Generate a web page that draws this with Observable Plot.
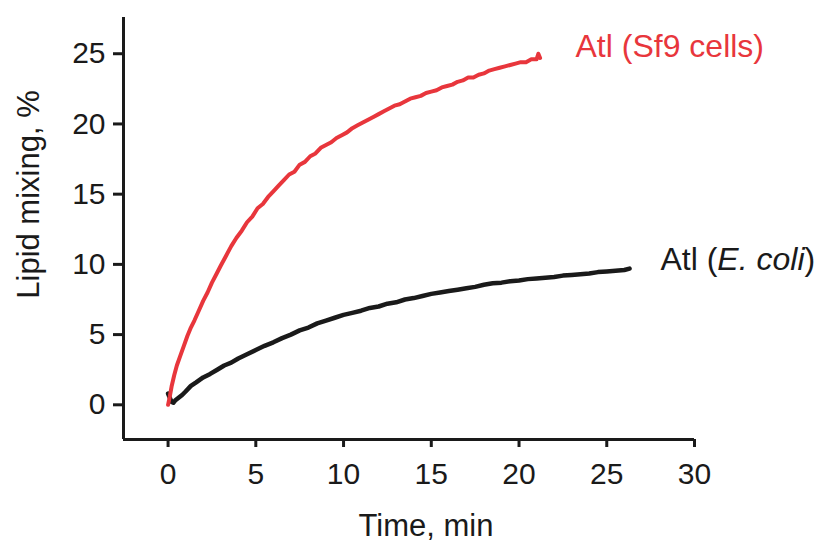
<!DOCTYPE html>
<html>
<head>
<meta charset="utf-8">
<script src="https://cdn.jsdelivr.net/npm/d3@7"></script>
<script src="https://cdn.jsdelivr.net/npm/@observablehq/plot@0.6"></script>
<style>
  html, body { margin: 0; padding: 0; background: #ffffff; }
  #chart { width: 817px; height: 544px; }
</style>
</head>
<body>
<div id="chart"></div>
<script>
// ---- Data ----
const xTicks = [0, 5, 10, 15, 20, 25, 30];
const yTicks = [0, 5, 10, 15, 20, 25];
const xLabel = "Time, min";
const yLabel = "Lipid mixing, %";
const sf9Label = "Atl (Sf9 cells)";
const ecoliLabel = "Atl (E. coli)";

const sf9Time = [0.0, 0.1, 0.2, 0.35, 0.5, 0.7, 0.9, 1.1, 1.3, 1.5, 1.75, 2.0, 2.25, 2.5, 2.75, 3.0, 3.3, 3.6, 3.9, 4.2, 4.5, 4.8, 5.1, 5.4, 5.7, 6.0, 6.3, 6.6, 6.9, 7.2, 7.5, 7.8, 8.1, 8.4, 8.7, 9.0, 9.3, 9.6, 9.9, 10.2, 10.5, 10.8, 11.1, 11.4, 11.7, 12.0, 12.3, 12.6, 12.9, 13.2, 13.5, 13.8, 14.1, 14.4, 14.7, 15.0, 15.3, 15.6, 15.9, 16.2, 16.5, 16.8, 17.1, 17.4, 17.7, 18.0, 18.3, 18.6, 18.9, 19.2, 19.5, 19.8, 20.1, 20.4, 20.7, 21.0, 21.1, 21.2];
const sf9Value = [0.0, 0.6, 1.3, 2.1, 2.8, 3.5, 4.2, 4.9, 5.5, 6.0, 6.7, 7.4, 8.0, 8.7, 9.3, 9.9, 10.6, 11.3, 11.9, 12.4, 13.0, 13.4, 14.0, 14.3, 14.8, 15.2, 15.6, 16.0, 16.4, 16.6, 17.1, 17.3, 17.7, 17.9, 18.3, 18.5, 18.7, 19.0, 19.2, 19.4, 19.7, 19.9, 20.1, 20.3, 20.5, 20.7, 20.9, 21.1, 21.3, 21.4, 21.6, 21.8, 21.9, 22.0, 22.2, 22.3, 22.4, 22.6, 22.7, 22.8, 23.0, 23.1, 23.3, 23.3, 23.5, 23.6, 23.8, 23.9, 24.0, 24.1, 24.2, 24.3, 24.4, 24.4, 24.6, 24.6, 25.0, 24.7];

const ecoliTime = [0.0, 0.1, 0.2, 0.3, 0.4, 0.6, 0.8, 1.0, 1.3, 1.6, 2.0, 2.4, 2.8, 3.2, 3.6, 4.0, 4.5, 5.0, 5.5, 6.0, 6.5, 7.0, 7.5, 8.0, 8.5, 9.0, 9.5, 10.0, 10.5, 11.0, 11.5, 12.0, 12.5, 13.0, 13.5, 14.0, 14.5, 15.0, 15.5, 16.0, 16.5, 17.0, 17.5, 18.0, 18.5, 19.0, 19.5, 20.0, 20.5, 21.0, 21.5, 22.0, 22.5, 23.0, 23.5, 24.0, 24.5, 25.0, 25.5, 26.0, 26.3];
const ecoliValue = [0.8, 0.5, 0.2, 0.15, 0.3, 0.5, 0.7, 0.95, 1.35, 1.6, 1.95, 2.2, 2.5, 2.8, 3.0, 3.3, 3.6, 3.9, 4.2, 4.45, 4.75, 5.0, 5.3, 5.5, 5.8, 6.0, 6.2, 6.4, 6.55, 6.7, 6.9, 7.0, 7.2, 7.3, 7.5, 7.6, 7.75, 7.9, 8.0, 8.1, 8.2, 8.3, 8.4, 8.55, 8.65, 8.7, 8.8, 8.85, 8.95, 9.0, 9.05, 9.1, 9.2, 9.25, 9.3, 9.35, 9.45, 9.5, 9.55, 9.6, 9.7];

// ---- Build tables ----
const sf9 = sf9Time.map((t, i) => ({t, v: sf9Value[i]}));
const ecoli = ecoliTime.map((t, i) => ({t, v: ecoliValue[i]}));

const xMin = -2.54, xMax = 30;
const yMin = -2.47, yMax = 27.58;
const ink = "#1a1a1a";
const red = "#e8363c";
const font = "'Liberation Sans', Arial, Helvetica, sans-serif";

const chart = Plot.plot({
  width: 817,
  height: 544,
  marginTop: 17,
  marginBottom: 105,
  marginLeft: 123,
  marginRight: 123,
  x: {domain: [xMin, xMax]},
  y: {domain: [yMin, yMax]},
  style: {fontFamily: font, fontSize: "30px", color: ink, background: "#ffffff", overflow: "visible"},
  marks: [
    Plot.axisX({ticks: xTicks, tickSize: 8, tickPadding: 15, strokeWidth: 3, label: null, fontSize: 30, tickFormat: d => String(d)}),
    Plot.axisY({ticks: yTicks, tickSize: 10, tickPadding: 8, strokeWidth: 3, label: null, fontSize: 30, tickFormat: d => String(d)}),
    Plot.ruleX([xMin], {stroke: ink, strokeWidth: 3}),
    Plot.ruleY([yMin], {stroke: ink, strokeWidth: 3}),
    Plot.line(ecoli, {x: "t", y: "v", stroke: ink, strokeWidth: 4.5, strokeLinejoin: "round"}),
    Plot.line(sf9, {x: "t", y: "v", stroke: red, strokeWidth: 4, strokeLinejoin: "round"}),
    Plot.text([sf9Label], {x: 23.22, y: 25.5, text: d => d, textAnchor: "start", lineAnchor: "middle", fill: red, fontSize: 32}),
    Plot.text([ecoliLabel], {x: 28.06, y: 10.3, text: d => d, textAnchor: "start", lineAnchor: "middle", fill: ink, fontSize: 32}),
    Plot.text([xLabel], {frameAnchor: "bottom", text: d => d, dx: 17, dy: 87, textAnchor: "middle", lineAnchor: "middle", fill: ink, fontSize: 31}),
    Plot.text([yLabel], {frameAnchor: "left", text: d => d, dx: -94, dy: -34, rotate: -90, textAnchor: "middle", lineAnchor: "middle", fill: ink, fontSize: 31})
  ]
});

// italicize "E. coli" in the annotation
chart.querySelectorAll("text").forEach(t => {
  if (t.textContent === ecoliLabel) {
    t.textContent = "";
    const ns = "http://www.w3.org/2000/svg";
    const a = document.createElementNS(ns, "tspan"); a.textContent = "Atl (";
    const b = document.createElementNS(ns, "tspan"); b.textContent = "E. coli"; b.setAttribute("font-style", "italic");
    const c = document.createElementNS(ns, "tspan"); c.textContent = ")";
    t.append(a, b, c);
  }
});

document.getElementById("chart").append(chart);
</script>
</body>
</html>
